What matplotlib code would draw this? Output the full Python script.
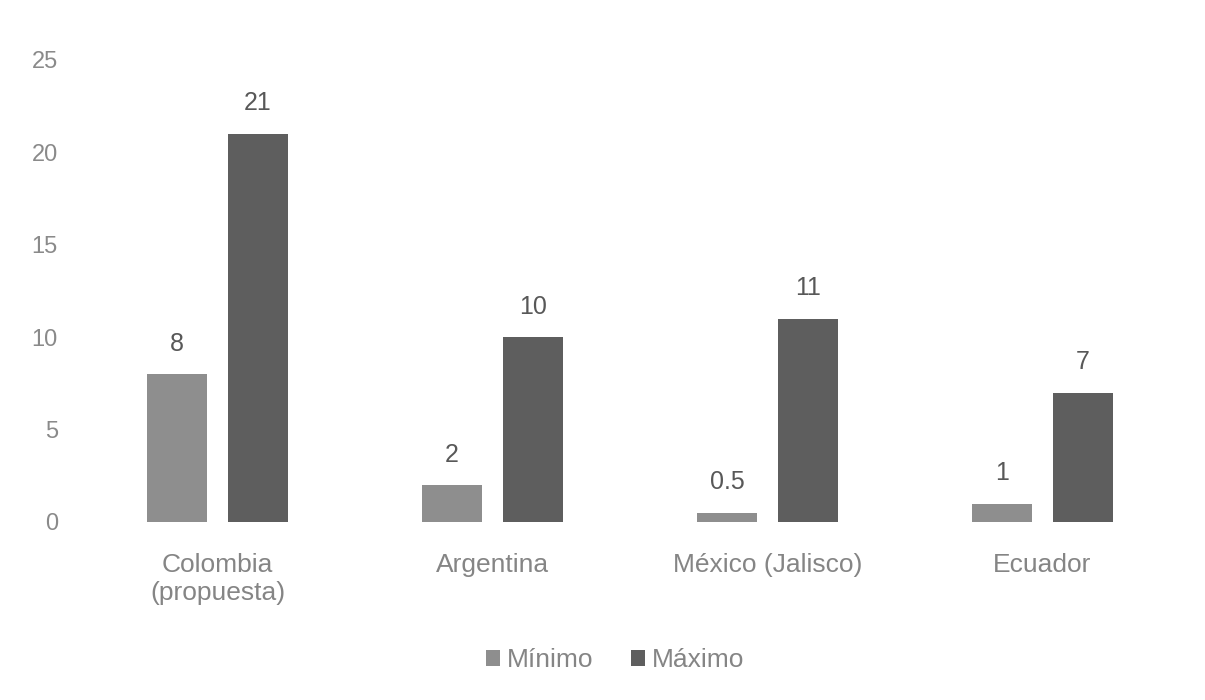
import matplotlib
matplotlib.use("Agg")
import matplotlib.pyplot as plt
import numpy as np

categories = ["Colombia\n(propuesta)", "Argentina", "México (Jalisco)", "Ecuador"]
minimo = [8, 2, 0.5, 1]
maximo = [21, 10, 11, 7]
min_labels = ["8", "2", "0.5", "1"]
max_labels = ["21", "10", "11", "7"]
yticks = [0, 5, 10, 15, 20, 25]

plt.rcParams['font.family'] = ['Liberation Sans', 'DejaVu Sans']
fig = plt.figure(figsize=(12.05, 7), dpi=100)
ax = fig.add_axes([80/1205, 1-522/700, 1100/1205, 462/700])

x = np.arange(len(categories))
w = 0.22
gap = 0.075
off = (w + gap) / 2
c_min = "#8e8e8e"
c_max = "#5e5e5e"
b1 = ax.bar(x - off, minimo, w, color=c_min, label="Mínimo")
b2 = ax.bar(x + off, maximo, w, color=c_max, label="Máximo")

txt = "#585858"
for xi, v, lab in zip(x - off, minimo, min_labels):
    ax.text(xi, v + 1.0, lab, ha="center", va="bottom", fontsize=18, color=txt)
for xi, v, lab in zip(x + off, maximo, max_labels):
    ax.text(xi, v + 1.0, lab, ha="center", va="bottom", fontsize=18, color=txt)

ax.set_xlim(-0.5, len(categories) - 0.5)
ax.set_ylim(0, 25)
ax.set_yticks(yticks)
ax.set_yticklabels([str(t) for t in yticks], fontsize=17, color="#8a8a8a")
ax.set_xticks(x)
ax.set_xticklabels(categories, fontsize=19, color="#858585", linespacing=1.25)
ax.tick_params(length=0)
ax.tick_params(axis="y", pad=16)
ax.tick_params(axis="x", pad=22)
for s in ax.spines.values():
    s.set_visible(False)

fig.legend(handles=[b1, b2], labels=["Mínimo", "Máximo"], loc="center",
           bbox_to_anchor=(615/1205, 1-660/700), ncol=2, frameon=False,
           fontsize=19, labelcolor="#858585", handlelength=0.55, handleheight=0.55,
           handletextpad=0.25, columnspacing=1.4)

fig.savefig("out.png", dpi=100)
